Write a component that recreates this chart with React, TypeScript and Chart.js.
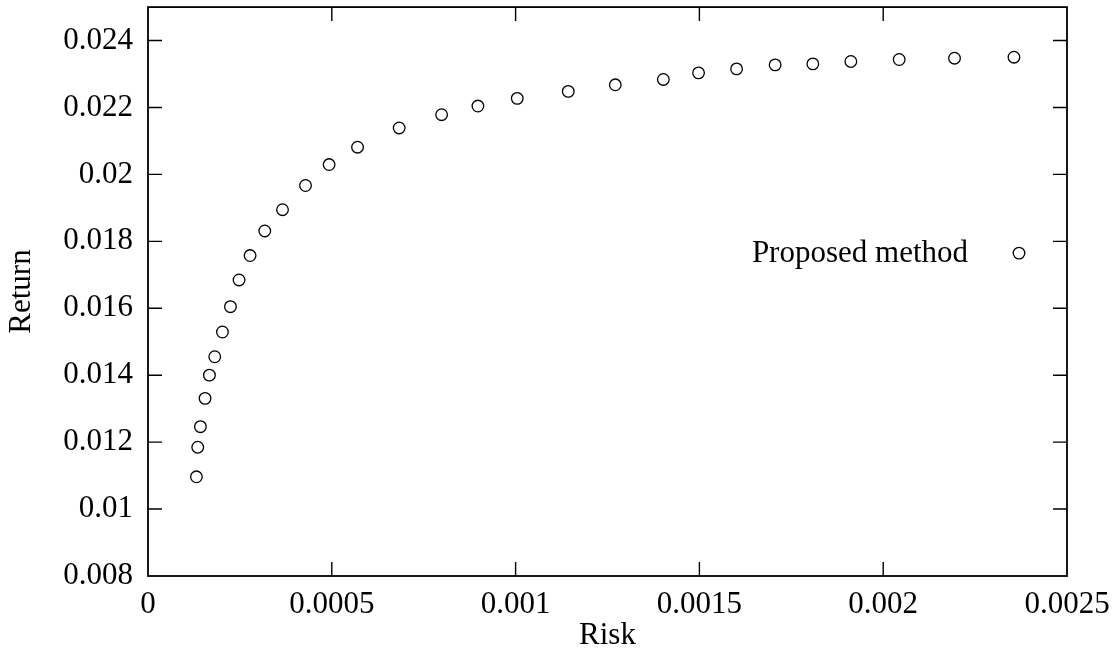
import React, { useEffect, useRef } from "react";
import { Chart, registerables } from "chart.js";

Chart.register(...registerables);

const seriesName = "Proposed method";
const riskValues = [
  0.0001317, 0.0001353, 0.0001426, 0.0001552, 0.0001671, 0.0001816, 0.0002025,
  0.0002243, 0.0002477, 0.0002777, 0.0003177, 0.0003659, 0.0004285, 0.0004927,
  0.00057, 0.0006833, 0.0007987, 0.0008975, 0.0010045, 0.0011433, 0.0012712,
  0.0014019, 0.0014977, 0.0016012, 0.001706, 0.0018086, 0.001912, 0.0020435,
  0.002194, 0.0023557,
];
const returnValues = [
  0.010964, 0.011848, 0.012462, 0.013308, 0.014002, 0.014552, 0.015291,
  0.016048, 0.016846, 0.017576, 0.018311, 0.018946, 0.019669, 0.020295,
  0.020813, 0.021388, 0.021784, 0.022043, 0.022273, 0.022481, 0.022678,
  0.022838, 0.023035, 0.023154, 0.023273, 0.023303, 0.023375, 0.023434,
  0.023473, 0.023503,
];
const xTitle = "Risk";
const yTitle = "Return";
const xMin = 0;
const xMax = 0.0025;
const xStep = 0.0005;
const yMin = 0.008;
const yMax = 0.025;
const yStep = 0.002;

const FONT = "'Liberation Serif', 'Times New Roman', serif";
const FONT_SIZE = 31;

const framePlugin = {
  id: "frameTicks",
  afterDraw(chart: any) {
    const { ctx, chartArea } = chart;
    const { left, right, top, bottom } = chartArea;
    const xs = chart.scales.x;
    const ys = chart.scales.y;
    const tl = 14;
    ctx.save();
    ctx.strokeStyle = "#000";
    ctx.lineWidth = 1.4;
    ctx.beginPath();
    xs.ticks.forEach((t: any) => {
      const px = xs.getPixelForValue(t.value);
      if (px <= left + 1 || px >= right - 1) return;
      ctx.moveTo(px, bottom);
      ctx.lineTo(px, bottom - tl);
      ctx.moveTo(px, top);
      ctx.lineTo(px, top + tl);
    });
    ys.ticks.forEach((t: any) => {
      const py = ys.getPixelForValue(t.value);
      if (py <= top + 1 || py >= bottom - 1) return;
      ctx.moveTo(left, py);
      ctx.lineTo(left + tl, py);
      ctx.moveTo(right, py);
      ctx.lineTo(right - tl, py);
    });
    ctx.stroke();
    ctx.lineWidth = 1.8;
    ctx.strokeRect(left, top, right - left, bottom - top);

    // legend
    const ly = top + 246;
    const mx = right - 48;
    ctx.font = `${FONT_SIZE}px ${FONT}`;
    ctx.fillStyle = "#000";
    ctx.textAlign = "right";
    ctx.textBaseline = "middle";
    ctx.fillText(seriesName, mx - 51, ly + 1);
    ctx.lineWidth = 1.3;
    ctx.beginPath();
    ctx.arc(mx, ly, 5.8, 0, Math.PI * 2);
    ctx.stroke();
    ctx.restore();
  },
};

export default function App() {
  const ref = useRef<HTMLCanvasElement | null>(null);
  useEffect(() => {
    if (!ref.current) return;
    const data = riskValues.map((x, i) => ({ x, y: returnValues[i] }));
    const chart = new Chart(ref.current, {
      type: "scatter",
      data: {
        datasets: [
          {
            label: seriesName,
            data,
            pointStyle: "circle",
            pointRadius: 5.8,
            pointBorderWidth: 1.3,
            pointBorderColor: "#000",
            pointBackgroundColor: "rgba(0,0,0,0)",
            showLine: false,
          },
        ],
      },
      options: {
        animation: false,
        responsive: false,
        devicePixelRatio: 1,
        layout: { padding: { top: 3, right: 53, left: 0, bottom: 0 } },
        plugins: {
          legend: { display: false },
          tooltip: { enabled: false },
        },
        scales: {
          x: {
            type: "linear",
            min: xMin,
            max: xMax,
            grid: { display: false, drawTicks: false },
            border: { display: false },
            ticks: {
              stepSize: xStep,
              includeBounds: false,
              padding: 10,
              color: "#000",
              font: { family: FONT, size: FONT_SIZE },
              maxRotation: 0,
              callback: (v: any) => String(Number(Number(v).toFixed(4))),
            },
            title: {
              display: true,
              text: xTitle,
              color: "#000",
              font: { family: FONT, size: FONT_SIZE },
              padding: { top: 0, bottom: 0 },
            },
            afterFit: (s: any) => {
              s.height = 78;
              s.paddingLeft = 0;
              s.paddingRight = 0;
            },
          },
          y: {
            type: "linear",
            min: yMin,
            max: yMax,
            grid: { display: false, drawTicks: false },
            border: { display: false },
            ticks: {
              stepSize: yStep,
              includeBounds: false,
              padding: 15,
              color: "#000",
              font: { family: FONT, size: FONT_SIZE },
              callback: (v: any) => String(Number(Number(v).toFixed(3))),
            },
            title: {
              display: true,
              text: yTitle,
              color: "#000",
              font: { family: FONT, size: FONT_SIZE },
              padding: { top: 3, bottom: 0 },
            },
            afterFit: (s: any) => {
              s.width = 148;
              s.paddingTop = 0;
              s.paddingBottom = 0;
            },
          },
        },
      },
      plugins: [framePlugin],
    });
    return () => chart.destroy();
  }, []);
  return (
    <div style={{ position: "absolute", left: 0, top: 0, width: 1120, height: 654, background: "#fff" }}>
      <canvas ref={ref} width={1120} height={654} />
    </div>
  );
}
